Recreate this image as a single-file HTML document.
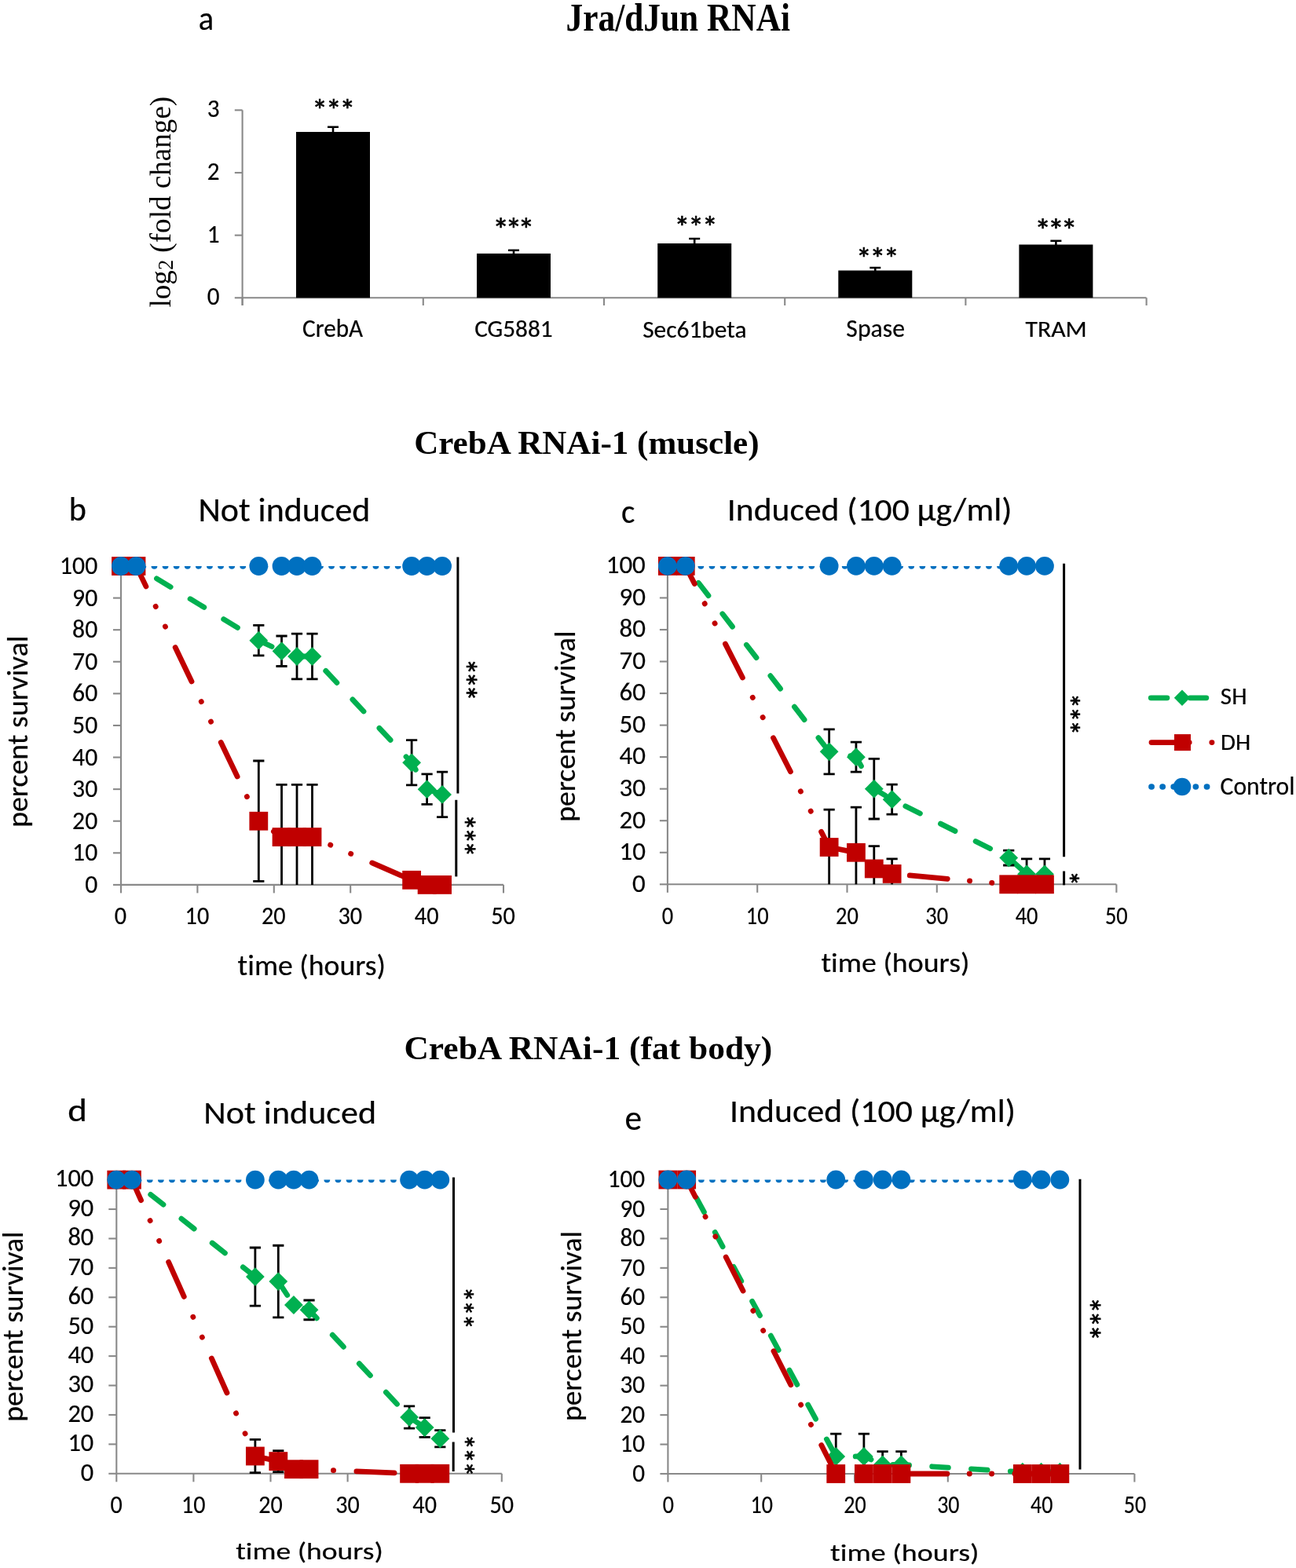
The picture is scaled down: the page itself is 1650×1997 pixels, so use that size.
<!DOCTYPE html>
<html><head><meta charset="utf-8"><title>Figure</title>
<style>
html,body{margin:0;padding:0;background:#fff;}
svg{display:block;}
text{font-variant-ligatures:none;font-feature-settings:"liga" 0,"clig" 0;font-kerning:normal;}
</style></head>
<body>
<svg width="1650" height="1997" viewBox="0 0 1650 1997">
<rect width="1650" height="1997" fill="#fff"/>
<text class="t" id="a" x="252.769" y="37.902" font-family="Carlito, 'Liberation Sans', sans-serif" font-size="43.679" textLength="19.385" lengthAdjust="spacingAndGlyphs" stroke="#000" stroke-width="0.2">a</text>
<text class="t" id="title" x="720.574" y="38.783" font-family="'Liberation Serif', 'Times New Roman', serif" font-size="50.265" font-weight="bold" textLength="285.423" lengthAdjust="spacingAndGlyphs">Jra/dJun RNAi</text>
<text class="t" id="t1" x="527.168" y="578.064" font-family="'Liberation Serif', 'Times New Roman', serif" font-size="41.561" font-weight="bold" textLength="439.424" lengthAdjust="spacingAndGlyphs">CrebA RNAi-1 (muscle)</text>
<text class="t" id="t2" x="514.442" y="1349.275" font-family="'Liberation Serif', 'Times New Roman', serif" font-size="41.292" font-weight="bold" textLength="468.905" lengthAdjust="spacingAndGlyphs">CrebA RNAi-1 (fat body)</text>
<g stroke="#898989" stroke-width="2.1" fill="none">
<path d="M308.6,140.30V389"/>
<path d="M308.6,379.30H1459.5"/>
<path d="M298.8,379.30H308.6"/>
<path d="M298.8,299.63H308.6"/>
<path d="M298.8,219.97H308.6"/>
<path d="M298.8,140.30H308.6"/>
<path d="M308.60,379.30V389"/>
<path d="M538.80,379.30V389"/>
<path d="M769.00,379.30V389"/>
<path d="M999.20,379.30V389"/>
<path d="M1229.40,379.30V389"/>
<path d="M1459.60,379.30V389"/>
</g>
<text class="t" id="a_y0" x="279.589" y="388.202" font-family="Carlito, 'Liberation Sans', sans-serif" font-size="32.526" text-anchor="end" textLength="15.794" lengthAdjust="spacingAndGlyphs" stroke="#000" stroke-width="0.2">0</text>
<text class="t" id="a_y1" x="279.589" y="308.535" font-family="Carlito, 'Liberation Sans', sans-serif" font-size="32.526" text-anchor="end" textLength="15.794" lengthAdjust="spacingAndGlyphs" stroke="#000" stroke-width="0.2">1</text>
<text class="t" id="a_y2" x="279.589" y="228.869" font-family="Carlito, 'Liberation Sans', sans-serif" font-size="32.526" text-anchor="end" textLength="15.794" lengthAdjust="spacingAndGlyphs" stroke="#000" stroke-width="0.2">2</text>
<text class="t" id="a_y3" x="279.589" y="149.202" font-family="Carlito, 'Liberation Sans', sans-serif" font-size="32.526" text-anchor="end" textLength="15.794" lengthAdjust="spacingAndGlyphs" stroke="#000" stroke-width="0.2">3</text>
<text class="t" id="a_ylab" x="0" y="0" transform="translate(217.301,391.506) rotate(-90)" font-family="'Liberation Serif', 'Times New Roman', serif" font-size="37.113">log<tspan font-size="26.350" dy="2.487">2</tspan><tspan dy="-2.487"> (fold change)</tspan></text>
<rect x="377.00" y="168.00" width="94" height="211.30" fill="#000"/>
<path d="M424.00,170.00V161.70M417.00,161.70h14" stroke="#000" stroke-width="2.6" fill="none"/>
<rect x="607.00" y="322.90" width="94" height="56.40" fill="#000"/>
<path d="M654.00,324.90V318.80M647.00,318.80h14" stroke="#000" stroke-width="2.6" fill="none"/>
<rect x="837.20" y="310.00" width="94" height="69.30" fill="#000"/>
<path d="M884.20,312.00V304.00M877.20,304.00h14" stroke="#000" stroke-width="2.6" fill="none"/>
<rect x="1067.30" y="344.50" width="94" height="34.80" fill="#000"/>
<path d="M1114.30,346.50V341.00M1107.30,341.00h14" stroke="#000" stroke-width="2.6" fill="none"/>
<rect x="1297.40" y="311.50" width="94" height="67.80" fill="#000"/>
<path d="M1344.40,313.50V306.70M1337.40,306.70h14" stroke="#000" stroke-width="2.6" fill="none"/>
<text class="t" id="a_c1" x="385.117" y="429.107" font-family="Carlito, 'Liberation Sans', sans-serif" font-size="32.521" textLength="77.014" lengthAdjust="spacingAndGlyphs" stroke="#000" stroke-width="0.2">CrebA</text>
<text class="t" id="a_s1" x="397.222" y="154.063" font-family="Carlito, 'Liberation Sans', sans-serif" font-size="39.649" textLength="55.106" lengthAdjust="spacing" stroke="#000" stroke-width="0.7">***</text>
<text class="t" id="a_c2" x="604.142" y="429.354" font-family="Carlito, 'Liberation Sans', sans-serif" font-size="30.166" textLength="99.539" lengthAdjust="spacingAndGlyphs" stroke="#000" stroke-width="0.2">CG5881</text>
<text class="t" id="a_s2" x="627.357" y="307.072" font-family="Carlito, 'Liberation Sans', sans-serif" font-size="41.894" textLength="52.991" lengthAdjust="spacing" stroke="#000" stroke-width="0.7">***</text>
<text class="t" id="a_c3" x="818.162" y="429.519" font-family="Carlito, 'Liberation Sans', sans-serif" font-size="30.494" textLength="132.348" lengthAdjust="spacingAndGlyphs" stroke="#000" stroke-width="0.2">Sec61beta</text>
<text class="t" id="a_s3" x="858.622" y="303.114" font-family="Carlito, 'Liberation Sans', sans-serif" font-size="39.649" textLength="55.006" lengthAdjust="spacing" stroke="#000" stroke-width="0.7">***</text>
<text class="t" id="a_c4" x="1077.370" y="428.974" font-family="Carlito, 'Liberation Sans', sans-serif" font-size="32.193" textLength="74.562" lengthAdjust="spacingAndGlyphs" stroke="#000" stroke-width="0.2">Spase</text>
<text class="t" id="a_s4" x="1090.022" y="343.156" font-family="Carlito, 'Liberation Sans', sans-serif" font-size="39.649" textLength="54.606" lengthAdjust="spacing" stroke="#000" stroke-width="0.7">***</text>
<text class="t" id="a_c5" x="1305.429" y="428.523" font-family="Carlito, 'Liberation Sans', sans-serif" font-size="29.436" textLength="78.304" lengthAdjust="spacingAndGlyphs" stroke="#000" stroke-width="0.2">TRAM</text>
<text class="t" id="a_s5" x="1317.357" y="307.576" font-family="Carlito, 'Liberation Sans', sans-serif" font-size="41.894" textLength="54.291" lengthAdjust="spacing" stroke="#000" stroke-width="0.7">***</text>
<g stroke="#898989" stroke-width="2.1" fill="none">
<path d="M154.00,721.00V1126.90"/>
<path d="M154.00,1126.90H641.00"/>
<path d="M144.00,1126.90H154.00"/>
<path d="M144.00,1086.31H154.00"/>
<path d="M144.00,1045.72H154.00"/>
<path d="M144.00,1005.13H154.00"/>
<path d="M144.00,964.54H154.00"/>
<path d="M144.00,923.95H154.00"/>
<path d="M144.00,883.36H154.00"/>
<path d="M144.00,842.77H154.00"/>
<path d="M144.00,802.18H154.00"/>
<path d="M144.00,761.59H154.00"/>
<path d="M144.00,721.00H154.00"/>
<path d="M154.00,1126.90V1137.40"/>
<path d="M251.40,1126.90V1137.40"/>
<path d="M348.80,1126.90V1137.40"/>
<path d="M446.20,1126.90V1137.40"/>
<path d="M543.60,1126.90V1137.40"/>
<path d="M641.00,1126.90V1137.40"/>
</g>
<text class="t" id="b_y0" x="124.237" y="1136.884" font-family="Carlito, 'Liberation Sans', sans-serif" font-size="32.444" text-anchor="end" textLength="16.073" lengthAdjust="spacingAndGlyphs" stroke="#000" stroke-width="0.2">0</text>
<text class="t" id="b_y10" x="124.237" y="1096.294" font-family="Carlito, 'Liberation Sans', sans-serif" font-size="32.444" text-anchor="end" textLength="32.146" lengthAdjust="spacingAndGlyphs" stroke="#000" stroke-width="0.2">10</text>
<text class="t" id="b_y20" x="124.237" y="1055.704" font-family="Carlito, 'Liberation Sans', sans-serif" font-size="32.444" text-anchor="end" textLength="32.146" lengthAdjust="spacingAndGlyphs" stroke="#000" stroke-width="0.2">20</text>
<text class="t" id="b_y30" x="124.237" y="1015.114" font-family="Carlito, 'Liberation Sans', sans-serif" font-size="32.444" text-anchor="end" textLength="32.146" lengthAdjust="spacingAndGlyphs" stroke="#000" stroke-width="0.2">30</text>
<text class="t" id="b_y40" x="124.237" y="974.524" font-family="Carlito, 'Liberation Sans', sans-serif" font-size="32.444" text-anchor="end" textLength="32.146" lengthAdjust="spacingAndGlyphs" stroke="#000" stroke-width="0.2">40</text>
<text class="t" id="b_y50" x="124.237" y="933.934" font-family="Carlito, 'Liberation Sans', sans-serif" font-size="32.444" text-anchor="end" textLength="32.146" lengthAdjust="spacingAndGlyphs" stroke="#000" stroke-width="0.2">50</text>
<text class="t" id="b_y60" x="124.237" y="893.344" font-family="Carlito, 'Liberation Sans', sans-serif" font-size="32.444" text-anchor="end" textLength="32.146" lengthAdjust="spacingAndGlyphs" stroke="#000" stroke-width="0.2">60</text>
<text class="t" id="b_y70" x="124.237" y="852.754" font-family="Carlito, 'Liberation Sans', sans-serif" font-size="32.444" text-anchor="end" textLength="32.146" lengthAdjust="spacingAndGlyphs" stroke="#000" stroke-width="0.2">70</text>
<text class="t" id="b_y80" x="124.237" y="812.164" font-family="Carlito, 'Liberation Sans', sans-serif" font-size="32.444" text-anchor="end" textLength="32.146" lengthAdjust="spacingAndGlyphs" stroke="#000" stroke-width="0.2">80</text>
<text class="t" id="b_y90" x="124.237" y="771.574" font-family="Carlito, 'Liberation Sans', sans-serif" font-size="32.444" text-anchor="end" textLength="32.146" lengthAdjust="spacingAndGlyphs" stroke="#000" stroke-width="0.2">90</text>
<text class="t" id="b_y100" x="124.237" y="730.984" font-family="Carlito, 'Liberation Sans', sans-serif" font-size="32.444" text-anchor="end" textLength="48.219" lengthAdjust="spacingAndGlyphs" stroke="#000" stroke-width="0.2">100</text>
<text class="t" id="b_x0" x="153.534" y="1177.088" font-family="Carlito, 'Liberation Sans', sans-serif" font-size="31.923" text-anchor="middle" textLength="15.320" lengthAdjust="spacingAndGlyphs" stroke="#000" stroke-width="0.2">0</text>
<text class="t" id="b_x10" x="250.934" y="1177.088" font-family="Carlito, 'Liberation Sans', sans-serif" font-size="31.923" text-anchor="middle" textLength="30.641" lengthAdjust="spacingAndGlyphs" stroke="#000" stroke-width="0.2">10</text>
<text class="t" id="b_x20" x="348.334" y="1177.088" font-family="Carlito, 'Liberation Sans', sans-serif" font-size="31.923" text-anchor="middle" textLength="30.641" lengthAdjust="spacingAndGlyphs" stroke="#000" stroke-width="0.2">20</text>
<text class="t" id="b_x30" x="445.734" y="1177.088" font-family="Carlito, 'Liberation Sans', sans-serif" font-size="31.923" text-anchor="middle" textLength="30.641" lengthAdjust="spacingAndGlyphs" stroke="#000" stroke-width="0.2">30</text>
<text class="t" id="b_x40" x="543.134" y="1177.088" font-family="Carlito, 'Liberation Sans', sans-serif" font-size="31.923" text-anchor="middle" textLength="30.641" lengthAdjust="spacingAndGlyphs" stroke="#000" stroke-width="0.2">40</text>
<text class="t" id="b_x50" x="640.534" y="1177.088" font-family="Carlito, 'Liberation Sans', sans-serif" font-size="31.923" text-anchor="middle" textLength="30.641" lengthAdjust="spacingAndGlyphs" stroke="#000" stroke-width="0.2">50</text>
<text class="t" id="b_xl" x="302.617" y="1242.296" font-family="Carlito, 'Liberation Sans', sans-serif" font-size="36.321" textLength="188.398" lengthAdjust="spacingAndGlyphs" stroke="#000" stroke-width="0.2">time (hours)</text>
<text class="t" id="b_yl" x="0" y="0" transform="translate(35.228,1053.838) rotate(-90)" font-family="Carlito, 'Liberation Sans', sans-serif" font-size="37.280" textLength="244.295" lengthAdjust="spacingAndGlyphs" stroke="#000" stroke-width="0.2">percent survival</text>
<text class="t" id="b" x="87.817" y="662.759" font-family="Carlito, 'Liberation Sans', sans-serif" font-size="43.975" textLength="22.108" lengthAdjust="spacingAndGlyphs" stroke="#000" stroke-width="0.2">b</text>
<text class="t" id="b_t" x="252.457" y="664.067" font-family="Carlito, 'Liberation Sans', sans-serif" font-size="43.719" textLength="218.883" lengthAdjust="spacingAndGlyphs" stroke="#000" stroke-width="0.2">Not induced</text>
<clipPath id="clipb"><rect x="114.00" y="721.00" width="567.00" height="445.90"/></clipPath>
<path clip-path="url(#clipb)" d="M154.00,721.00 L173.48,721.00 L329.32,815.70 L358.54,829.25 L378.02,835.99 L397.50,835.99 L524.12,971.32 L543.60,1005.13 L563.08,1011.91" fill="none" stroke="#00B050" stroke-width="6.8" stroke-dasharray="20.7 29.2" stroke-linecap="round" stroke-linejoin="round"/>
<path d="M329.32,796.46V834.94 M322.22,796.46h14.20 M322.22,834.94h14.20 M358.54,810.01V848.49 M351.44,810.01h14.20 M351.44,848.49h14.20 M378.02,807.17V864.81 M370.92,807.17h14.20 M370.92,864.81h14.20 M397.50,807.17V864.81 M390.40,807.17h14.20 M390.40,864.81h14.20 M524.12,942.70V999.93 M517.02,942.70h14.20 M517.02,999.93h14.20 M543.60,985.89V1024.37 M536.50,985.89h14.20 M536.50,1024.37h14.20 M563.08,983.17V1040.65 M555.98,983.17h14.20 M555.98,1040.65h14.20" stroke="#000" stroke-width="2.8" fill="none"/>
<path d="M154.00,709.10L165.90,721.00L154.00,732.90L142.10,721.00Z" fill="#00B050"/>
<path d="M173.48,709.10L185.38,721.00L173.48,732.90L161.58,721.00Z" fill="#00B050"/>
<path d="M329.32,803.80L341.22,815.70L329.32,827.60L317.42,815.70Z" fill="#00B050"/>
<path d="M358.54,817.35L370.44,829.25L358.54,841.15L346.64,829.25Z" fill="#00B050"/>
<path d="M378.02,824.09L389.92,835.99L378.02,847.89L366.12,835.99Z" fill="#00B050"/>
<path d="M397.50,824.09L409.40,835.99L397.50,847.89L385.60,835.99Z" fill="#00B050"/>
<path d="M524.12,959.42L536.02,971.32L524.12,983.22L512.22,971.32Z" fill="#00B050"/>
<path d="M543.60,993.23L555.50,1005.13L543.60,1017.03L531.70,1005.13Z" fill="#00B050"/>
<path d="M563.08,1000.01L574.98,1011.91L563.08,1023.81L551.18,1011.91Z" fill="#00B050"/>
<path clip-path="url(#clipb)" d="M154.00,721.00 L173.48,721.00 L329.32,1045.72 L358.54,1066.02 L378.02,1066.02 L397.50,1066.02 L524.12,1120.81 L543.60,1126.90 L563.08,1126.90" fill="none" stroke="#C00000" stroke-width="6.8" stroke-dasharray="48.2 28.3 0.2 28.1 0.2 29.3" stroke-linecap="round" stroke-linejoin="round"/>
<path d="M329.32,969.00V1122.44 M322.22,969.00h14.20 M322.22,1122.44h14.20 M358.54,999.45V1126.90 M351.44,999.45h14.20 M378.02,999.45V1126.90 M370.92,999.45h14.20 M397.50,999.45V1126.90 M390.40,999.45h14.20" stroke="#000" stroke-width="2.8" fill="none"/>
<rect x="142.10" y="709.10" width="23.8" height="23.8" fill="#C00000"/>
<rect x="161.58" y="709.10" width="23.8" height="23.8" fill="#C00000"/>
<rect x="317.42" y="1033.82" width="23.8" height="23.8" fill="#C00000"/>
<rect x="346.64" y="1054.12" width="23.8" height="23.8" fill="#C00000"/>
<rect x="366.12" y="1054.12" width="23.8" height="23.8" fill="#C00000"/>
<rect x="385.60" y="1054.12" width="23.8" height="23.8" fill="#C00000"/>
<rect x="512.22" y="1108.91" width="23.8" height="23.8" fill="#C00000"/>
<rect x="531.70" y="1115.00" width="23.8" height="23.8" fill="#C00000"/>
<rect x="551.18" y="1115.00" width="23.8" height="23.8" fill="#C00000"/>
<path clip-path="url(#clipb)" d="M154.00,721.00 L173.48,721.00 L329.32,721.00 L358.54,721.00 L378.02,721.00 L397.50,721.00 L524.12,721.00 L543.60,721.00 L563.08,721.00" fill="none" stroke="#0070C0" stroke-width="7.5" stroke-dasharray="0.3 13.8" stroke-linecap="round"/>
<circle cx="154.00" cy="721.00" r="11.9" fill="#0070C0"/>
<circle cx="173.48" cy="721.00" r="11.9" fill="#0070C0"/>
<circle cx="329.32" cy="721.00" r="11.9" fill="#0070C0"/>
<circle cx="358.54" cy="721.00" r="11.9" fill="#0070C0"/>
<circle cx="378.02" cy="721.00" r="11.9" fill="#0070C0"/>
<circle cx="397.50" cy="721.00" r="11.9" fill="#0070C0"/>
<circle cx="524.12" cy="721.00" r="11.9" fill="#0070C0"/>
<circle cx="543.60" cy="721.00" r="11.9" fill="#0070C0"/>
<circle cx="563.08" cy="721.00" r="11.9" fill="#0070C0"/>
<path d="M582.90,709.60V1010.40" stroke="#000" stroke-width="3.0"/>
<path d="M580.80,1018.80V1116.40" stroke="#000" stroke-width="3.0"/>
<text class="t" id="b_s1" x="0" y="0" transform="translate(576.166,838.425) rotate(90)" font-family="Carlito, 'Liberation Sans', sans-serif" font-size="42.072" textLength="54.575" lengthAdjust="spacing" stroke="#000" stroke-width="0.7">***</text>
<text class="t" id="b_s2" x="0" y="0" transform="translate(574.416,1036.825) rotate(90)" font-family="Carlito, 'Liberation Sans', sans-serif" font-size="42.072" textLength="54.875" lengthAdjust="spacing" stroke="#000" stroke-width="0.7">***</text>
<g stroke="#898989" stroke-width="2.1" fill="none">
<path d="M849.90,720.90V1126.30"/>
<path d="M849.90,1126.30H1421.40"/>
<path d="M839.90,1126.30H849.90"/>
<path d="M839.90,1085.76H849.90"/>
<path d="M839.90,1045.22H849.90"/>
<path d="M839.90,1004.68H849.90"/>
<path d="M839.90,964.14H849.90"/>
<path d="M839.90,923.60H849.90"/>
<path d="M839.90,883.06H849.90"/>
<path d="M839.90,842.52H849.90"/>
<path d="M839.90,801.98H849.90"/>
<path d="M839.90,761.44H849.90"/>
<path d="M839.90,720.90H849.90"/>
<path d="M849.90,1126.30V1136.80"/>
<path d="M964.20,1126.30V1136.80"/>
<path d="M1078.50,1126.30V1136.80"/>
<path d="M1192.80,1126.30V1136.80"/>
<path d="M1307.10,1126.30V1136.80"/>
<path d="M1421.40,1126.30V1136.80"/>
</g>
<text class="t" id="c_y0" x="821.859" y="1135.620" font-family="Carlito, 'Liberation Sans', sans-serif" font-size="32.338" text-anchor="end" textLength="16.724" lengthAdjust="spacingAndGlyphs" stroke="#000" stroke-width="0.2">0</text>
<text class="t" id="c_y10" x="821.859" y="1095.080" font-family="Carlito, 'Liberation Sans', sans-serif" font-size="32.338" text-anchor="end" textLength="33.449" lengthAdjust="spacingAndGlyphs" stroke="#000" stroke-width="0.2">10</text>
<text class="t" id="c_y20" x="821.859" y="1054.540" font-family="Carlito, 'Liberation Sans', sans-serif" font-size="32.338" text-anchor="end" textLength="33.449" lengthAdjust="spacingAndGlyphs" stroke="#000" stroke-width="0.2">20</text>
<text class="t" id="c_y30" x="821.859" y="1014.000" font-family="Carlito, 'Liberation Sans', sans-serif" font-size="32.338" text-anchor="end" textLength="33.449" lengthAdjust="spacingAndGlyphs" stroke="#000" stroke-width="0.2">30</text>
<text class="t" id="c_y40" x="821.859" y="973.460" font-family="Carlito, 'Liberation Sans', sans-serif" font-size="32.338" text-anchor="end" textLength="33.449" lengthAdjust="spacingAndGlyphs" stroke="#000" stroke-width="0.2">40</text>
<text class="t" id="c_y50" x="821.859" y="932.920" font-family="Carlito, 'Liberation Sans', sans-serif" font-size="32.338" text-anchor="end" textLength="33.449" lengthAdjust="spacingAndGlyphs" stroke="#000" stroke-width="0.2">50</text>
<text class="t" id="c_y60" x="821.859" y="892.380" font-family="Carlito, 'Liberation Sans', sans-serif" font-size="32.338" text-anchor="end" textLength="33.449" lengthAdjust="spacingAndGlyphs" stroke="#000" stroke-width="0.2">60</text>
<text class="t" id="c_y70" x="821.859" y="851.840" font-family="Carlito, 'Liberation Sans', sans-serif" font-size="32.338" text-anchor="end" textLength="33.449" lengthAdjust="spacingAndGlyphs" stroke="#000" stroke-width="0.2">70</text>
<text class="t" id="c_y80" x="821.859" y="811.300" font-family="Carlito, 'Liberation Sans', sans-serif" font-size="32.338" text-anchor="end" textLength="33.449" lengthAdjust="spacingAndGlyphs" stroke="#000" stroke-width="0.2">80</text>
<text class="t" id="c_y90" x="821.859" y="770.760" font-family="Carlito, 'Liberation Sans', sans-serif" font-size="32.338" text-anchor="end" textLength="33.449" lengthAdjust="spacingAndGlyphs" stroke="#000" stroke-width="0.2">90</text>
<text class="t" id="c_y100" x="821.859" y="730.220" font-family="Carlito, 'Liberation Sans', sans-serif" font-size="32.338" text-anchor="end" textLength="50.173" lengthAdjust="spacingAndGlyphs" stroke="#000" stroke-width="0.2">100</text>
<text class="t" id="c_x0" x="849.856" y="1176.955" font-family="Carlito, 'Liberation Sans', sans-serif" font-size="32.051" text-anchor="middle" textLength="14.408" lengthAdjust="spacingAndGlyphs" stroke="#000" stroke-width="0.2">0</text>
<text class="t" id="c_x10" x="964.156" y="1176.955" font-family="Carlito, 'Liberation Sans', sans-serif" font-size="32.051" text-anchor="middle" textLength="28.817" lengthAdjust="spacingAndGlyphs" stroke="#000" stroke-width="0.2">10</text>
<text class="t" id="c_x20" x="1078.456" y="1176.955" font-family="Carlito, 'Liberation Sans', sans-serif" font-size="32.051" text-anchor="middle" textLength="28.817" lengthAdjust="spacingAndGlyphs" stroke="#000" stroke-width="0.2">20</text>
<text class="t" id="c_x30" x="1192.756" y="1176.955" font-family="Carlito, 'Liberation Sans', sans-serif" font-size="32.051" text-anchor="middle" textLength="28.817" lengthAdjust="spacingAndGlyphs" stroke="#000" stroke-width="0.2">30</text>
<text class="t" id="c_x40" x="1307.056" y="1176.955" font-family="Carlito, 'Liberation Sans', sans-serif" font-size="32.051" text-anchor="middle" textLength="28.817" lengthAdjust="spacingAndGlyphs" stroke="#000" stroke-width="0.2">40</text>
<text class="t" id="c_x50" x="1421.356" y="1176.955" font-family="Carlito, 'Liberation Sans', sans-serif" font-size="32.051" text-anchor="middle" textLength="28.817" lengthAdjust="spacingAndGlyphs" stroke="#000" stroke-width="0.2">50</text>
<text class="t" id="c_xl" x="1045.437" y="1238.011" font-family="Carlito, 'Liberation Sans', sans-serif" font-size="33.795" textLength="189.014" lengthAdjust="spacingAndGlyphs" stroke="#000" stroke-width="0.2">time (hours)</text>
<text class="t" id="c_yl" x="0" y="0" transform="translate(732.100,1046.841) rotate(-90)" font-family="Carlito, 'Liberation Sans', sans-serif" font-size="37.000" textLength="243.501" lengthAdjust="spacingAndGlyphs" stroke="#000" stroke-width="0.2">percent survival</text>
<text class="t" id="c" x="791.120" y="666.328" font-family="Carlito, 'Liberation Sans', sans-serif" font-size="43.662" textLength="17.311" lengthAdjust="spacingAndGlyphs" stroke="#000" stroke-width="0.2">c</text>
<text class="t" id="c_t" x="925.854" y="663.012" font-family="Carlito, 'Liberation Sans', sans-serif" font-size="41.200" textLength="362.600" lengthAdjust="spacingAndGlyphs" stroke="#000" stroke-width="0.2">Induced (100 µg/ml)</text>
<clipPath id="clipc"><rect x="809.90" y="720.90" width="651.50" height="445.40"/></clipPath>
<path clip-path="url(#clipc)" d="M849.90,720.90 L872.76,720.90 L1055.64,957.37 L1089.93,964.14 L1112.79,1004.68 L1135.65,1018.18 L1284.24,1092.53 L1307.10,1113.33 L1329.96,1113.33" fill="none" stroke="#00B050" stroke-width="6.8" stroke-dasharray="20.7 29.2" stroke-linecap="round" stroke-linejoin="round"/>
<path d="M1055.64,928.87V985.87 M1048.54,928.87h14.20 M1048.54,985.87h14.20 M1089.93,945.13V983.15 M1082.83,945.13h14.20 M1082.83,983.15h14.20 M1112.79,966.37V1042.99 M1105.69,966.37h14.20 M1105.69,1042.99h14.20 M1135.65,999.17V1037.19 M1128.55,999.17h14.20 M1128.55,1037.19h14.20 M1284.24,1083.04V1102.02 M1277.14,1083.04h14.20 M1277.14,1102.02h14.20 M1307.10,1093.91V1126.30 M1300.00,1093.91h14.20 M1329.96,1093.91V1126.30 M1322.86,1093.91h14.20" stroke="#000" stroke-width="2.8" fill="none"/>
<path d="M849.90,709.00L861.80,720.90L849.90,732.80L838.00,720.90Z" fill="#00B050"/>
<path d="M872.76,709.00L884.66,720.90L872.76,732.80L860.86,720.90Z" fill="#00B050"/>
<path d="M1055.64,945.47L1067.54,957.37L1055.64,969.27L1043.74,957.37Z" fill="#00B050"/>
<path d="M1089.93,952.24L1101.83,964.14L1089.93,976.04L1078.03,964.14Z" fill="#00B050"/>
<path d="M1112.79,992.78L1124.69,1004.68L1112.79,1016.58L1100.89,1004.68Z" fill="#00B050"/>
<path d="M1135.65,1006.28L1147.55,1018.18L1135.65,1030.08L1123.75,1018.18Z" fill="#00B050"/>
<path d="M1284.24,1080.63L1296.14,1092.53L1284.24,1104.43L1272.34,1092.53Z" fill="#00B050"/>
<path d="M1307.10,1101.43L1319.00,1113.33L1307.10,1125.23L1295.20,1113.33Z" fill="#00B050"/>
<path d="M1329.96,1101.43L1341.86,1113.33L1329.96,1125.23L1318.06,1113.33Z" fill="#00B050"/>
<path clip-path="url(#clipc)" d="M849.90,720.90 L872.76,720.90 L1055.64,1078.99 L1089.93,1085.76 L1112.79,1106.44 L1135.65,1112.92 L1284.24,1126.30 L1307.10,1126.30 L1329.96,1126.30" fill="none" stroke="#C00000" stroke-width="6.8" stroke-dasharray="48.2 28.3 0.2 28.1 0.2 29.3" stroke-linecap="round" stroke-linejoin="round"/>
<path d="M1055.64,1031.15V1126.30 M1048.54,1031.15h14.20 M1089.93,1028.19V1126.30 M1082.83,1028.19h14.20 M1112.79,1077.65V1126.30 M1105.69,1077.65h14.20 M1135.65,1093.87V1126.30 M1128.55,1093.87h14.20" stroke="#000" stroke-width="2.8" fill="none"/>
<rect x="838.00" y="709.00" width="23.8" height="23.8" fill="#C00000"/>
<rect x="860.86" y="709.00" width="23.8" height="23.8" fill="#C00000"/>
<rect x="1043.74" y="1067.09" width="23.8" height="23.8" fill="#C00000"/>
<rect x="1078.03" y="1073.86" width="23.8" height="23.8" fill="#C00000"/>
<rect x="1100.89" y="1094.54" width="23.8" height="23.8" fill="#C00000"/>
<rect x="1123.75" y="1101.02" width="23.8" height="23.8" fill="#C00000"/>
<rect x="1272.34" y="1114.40" width="23.8" height="23.8" fill="#C00000"/>
<rect x="1295.20" y="1114.40" width="23.8" height="23.8" fill="#C00000"/>
<rect x="1318.06" y="1114.40" width="23.8" height="23.8" fill="#C00000"/>
<path clip-path="url(#clipc)" d="M849.90,720.90 L872.76,720.90 L1055.64,720.90 L1089.93,720.90 L1112.79,720.90 L1135.65,720.90 L1284.24,720.90 L1307.10,720.90 L1329.96,720.90" fill="none" stroke="#0070C0" stroke-width="7.5" stroke-dasharray="0.3 13.8" stroke-linecap="round"/>
<circle cx="849.90" cy="720.90" r="11.9" fill="#0070C0"/>
<circle cx="872.76" cy="720.90" r="11.9" fill="#0070C0"/>
<circle cx="1055.64" cy="720.90" r="11.9" fill="#0070C0"/>
<circle cx="1089.93" cy="720.90" r="11.9" fill="#0070C0"/>
<circle cx="1112.79" cy="720.90" r="11.9" fill="#0070C0"/>
<circle cx="1135.65" cy="720.90" r="11.9" fill="#0070C0"/>
<circle cx="1284.24" cy="720.90" r="11.9" fill="#0070C0"/>
<circle cx="1307.10" cy="720.90" r="11.9" fill="#0070C0"/>
<circle cx="1329.96" cy="720.90" r="11.9" fill="#0070C0"/>
<path d="M1354.60,717.80V1091.30" stroke="#000" stroke-width="3.0"/>
<path d="M1354.60,1109.50V1127.30" stroke="#000" stroke-width="3.0"/>
<text class="t" id="c_s1" x="0" y="0" transform="translate(1346.987,882.787) rotate(90)" font-family="Carlito, 'Liberation Sans', sans-serif" font-size="38.791" textLength="53.653" lengthAdjust="spacing" stroke="#000" stroke-width="0.7">***</text>
<text class="t" id="c_s2" x="0" y="0" transform="translate(1345.920,1108.989) rotate(90)" font-family="Carlito, 'Liberation Sans', sans-serif" font-size="38.613" textLength="-16.831" lengthAdjust="spacing" stroke="#000" stroke-width="0.7">*</text>
<g stroke="#898989" stroke-width="2.1" fill="none">
<path d="M148.30,1502.60V1876.80"/>
<path d="M148.30,1876.80H638.80"/>
<path d="M138.30,1876.80H148.30"/>
<path d="M138.30,1839.38H148.30"/>
<path d="M138.30,1801.96H148.30"/>
<path d="M138.30,1764.54H148.30"/>
<path d="M138.30,1727.12H148.30"/>
<path d="M138.30,1689.70H148.30"/>
<path d="M138.30,1652.28H148.30"/>
<path d="M138.30,1614.86H148.30"/>
<path d="M138.30,1577.44H148.30"/>
<path d="M138.30,1540.02H148.30"/>
<path d="M138.30,1502.60H148.30"/>
<path d="M148.30,1876.80V1887.30"/>
<path d="M246.40,1876.80V1887.30"/>
<path d="M344.50,1876.80V1887.30"/>
<path d="M442.60,1876.80V1887.30"/>
<path d="M540.70,1876.80V1887.30"/>
<path d="M638.80,1876.80V1887.30"/>
</g>
<text class="t" id="d_y0" x="119.262" y="1885.644" font-family="Carlito, 'Liberation Sans', sans-serif" font-size="32.405" text-anchor="end" textLength="16.416" lengthAdjust="spacingAndGlyphs" stroke="#000" stroke-width="0.2">0</text>
<text class="t" id="d_y10" x="119.262" y="1848.224" font-family="Carlito, 'Liberation Sans', sans-serif" font-size="32.405" text-anchor="end" textLength="32.832" lengthAdjust="spacingAndGlyphs" stroke="#000" stroke-width="0.2">10</text>
<text class="t" id="d_y20" x="119.262" y="1810.804" font-family="Carlito, 'Liberation Sans', sans-serif" font-size="32.405" text-anchor="end" textLength="32.832" lengthAdjust="spacingAndGlyphs" stroke="#000" stroke-width="0.2">20</text>
<text class="t" id="d_y30" x="119.262" y="1773.384" font-family="Carlito, 'Liberation Sans', sans-serif" font-size="32.405" text-anchor="end" textLength="32.832" lengthAdjust="spacingAndGlyphs" stroke="#000" stroke-width="0.2">30</text>
<text class="t" id="d_y40" x="119.262" y="1735.964" font-family="Carlito, 'Liberation Sans', sans-serif" font-size="32.405" text-anchor="end" textLength="32.832" lengthAdjust="spacingAndGlyphs" stroke="#000" stroke-width="0.2">40</text>
<text class="t" id="d_y50" x="119.262" y="1698.544" font-family="Carlito, 'Liberation Sans', sans-serif" font-size="32.405" text-anchor="end" textLength="32.832" lengthAdjust="spacingAndGlyphs" stroke="#000" stroke-width="0.2">50</text>
<text class="t" id="d_y60" x="119.262" y="1661.124" font-family="Carlito, 'Liberation Sans', sans-serif" font-size="32.405" text-anchor="end" textLength="32.832" lengthAdjust="spacingAndGlyphs" stroke="#000" stroke-width="0.2">60</text>
<text class="t" id="d_y70" x="119.262" y="1623.704" font-family="Carlito, 'Liberation Sans', sans-serif" font-size="32.405" text-anchor="end" textLength="32.832" lengthAdjust="spacingAndGlyphs" stroke="#000" stroke-width="0.2">70</text>
<text class="t" id="d_y80" x="119.262" y="1586.284" font-family="Carlito, 'Liberation Sans', sans-serif" font-size="32.405" text-anchor="end" textLength="32.832" lengthAdjust="spacingAndGlyphs" stroke="#000" stroke-width="0.2">80</text>
<text class="t" id="d_y90" x="119.262" y="1548.864" font-family="Carlito, 'Liberation Sans', sans-serif" font-size="32.405" text-anchor="end" textLength="32.832" lengthAdjust="spacingAndGlyphs" stroke="#000" stroke-width="0.2">90</text>
<text class="t" id="d_y100" x="119.262" y="1511.444" font-family="Carlito, 'Liberation Sans', sans-serif" font-size="32.405" text-anchor="end" textLength="49.248" lengthAdjust="spacingAndGlyphs" stroke="#000" stroke-width="0.2">100</text>
<text class="t" id="d_x0" x="148.241" y="1927.458" font-family="Carlito, 'Liberation Sans', sans-serif" font-size="32.931" text-anchor="middle" textLength="15.266" lengthAdjust="spacingAndGlyphs" stroke="#000" stroke-width="0.2">0</text>
<text class="t" id="d_x10" x="246.341" y="1927.458" font-family="Carlito, 'Liberation Sans', sans-serif" font-size="32.931" text-anchor="middle" textLength="30.533" lengthAdjust="spacingAndGlyphs" stroke="#000" stroke-width="0.2">10</text>
<text class="t" id="d_x20" x="344.441" y="1927.458" font-family="Carlito, 'Liberation Sans', sans-serif" font-size="32.931" text-anchor="middle" textLength="30.533" lengthAdjust="spacingAndGlyphs" stroke="#000" stroke-width="0.2">20</text>
<text class="t" id="d_x30" x="442.541" y="1927.458" font-family="Carlito, 'Liberation Sans', sans-serif" font-size="32.931" text-anchor="middle" textLength="30.533" lengthAdjust="spacingAndGlyphs" stroke="#000" stroke-width="0.2">30</text>
<text class="t" id="d_x40" x="540.641" y="1927.458" font-family="Carlito, 'Liberation Sans', sans-serif" font-size="32.931" text-anchor="middle" textLength="30.533" lengthAdjust="spacingAndGlyphs" stroke="#000" stroke-width="0.2">40</text>
<text class="t" id="d_x50" x="638.741" y="1927.458" font-family="Carlito, 'Liberation Sans', sans-serif" font-size="32.931" text-anchor="middle" textLength="30.533" lengthAdjust="spacingAndGlyphs" stroke="#000" stroke-width="0.2">50</text>
<text class="t" id="d_xl" x="300.250" y="1986.212" font-family="Carlito, 'Liberation Sans', sans-serif" font-size="31.063" textLength="187.617" lengthAdjust="spacingAndGlyphs" stroke="#000" stroke-width="0.2">time (hours)</text>
<text class="t" id="d_yl" x="0" y="0" transform="translate(29.226,1810.841) rotate(-90)" font-family="Carlito, 'Liberation Sans', sans-serif" font-size="36.150" textLength="242.501" lengthAdjust="spacingAndGlyphs" stroke="#000" stroke-width="0.2">percent survival</text>
<text class="t" id="d" x="86.351" y="1428.019" font-family="Carlito, 'Liberation Sans', sans-serif" font-size="41.641" textLength="24.726" lengthAdjust="spacingAndGlyphs" stroke="#000" stroke-width="0.2">d</text>
<text class="t" id="d_t" x="259.360" y="1431.019" font-family="Carlito, 'Liberation Sans', sans-serif" font-size="41.641" textLength="219.681" lengthAdjust="spacingAndGlyphs" stroke="#000" stroke-width="0.2">Not induced</text>
<clipPath id="clipd"><rect x="108.30" y="1502.60" width="570.50" height="414.20"/></clipPath>
<path clip-path="url(#clipd)" d="M148.30,1502.60 L167.92,1502.60 L324.88,1626.09 L354.31,1632.07 L373.93,1662.01 L393.55,1668.37 L521.08,1804.95 L540.70,1818.05 L560.32,1832.27" fill="none" stroke="#00B050" stroke-width="6.8" stroke-dasharray="20.7 29.2" stroke-linecap="round" stroke-linejoin="round"/>
<path d="M324.88,1589.00V1663.17 M317.78,1589.00h14.20 M317.78,1663.17h14.20 M354.31,1586.27V1677.88 M347.21,1586.27h14.20 M347.21,1677.88h14.20 M393.55,1655.98V1680.76 M386.45,1655.98h14.20 M386.45,1680.76h14.20 M521.08,1790.85V1819.06 M513.98,1790.85h14.20 M513.98,1819.06h14.20 M540.70,1805.66V1830.44 M533.60,1805.66h14.20 M533.60,1830.44h14.20 M560.32,1821.57V1842.97 M553.22,1821.57h14.20 M553.22,1842.97h14.20" stroke="#000" stroke-width="2.8" fill="none"/>
<path d="M148.30,1490.70L160.20,1502.60L148.30,1514.50L136.40,1502.60Z" fill="#00B050"/>
<path d="M167.92,1490.70L179.82,1502.60L167.92,1514.50L156.02,1502.60Z" fill="#00B050"/>
<path d="M324.88,1614.19L336.78,1626.09L324.88,1637.99L312.98,1626.09Z" fill="#00B050"/>
<path d="M354.31,1620.17L366.21,1632.07L354.31,1643.97L342.41,1632.07Z" fill="#00B050"/>
<path d="M373.93,1650.11L385.83,1662.01L373.93,1673.91L362.03,1662.01Z" fill="#00B050"/>
<path d="M393.55,1656.47L405.45,1668.37L393.55,1680.27L381.65,1668.37Z" fill="#00B050"/>
<path d="M521.08,1793.05L532.98,1804.95L521.08,1816.85L509.18,1804.95Z" fill="#00B050"/>
<path d="M540.70,1806.15L552.60,1818.05L540.70,1829.95L528.80,1818.05Z" fill="#00B050"/>
<path d="M560.32,1820.37L572.22,1832.27L560.32,1844.17L548.42,1832.27Z" fill="#00B050"/>
<path clip-path="url(#clipd)" d="M148.30,1502.60 L167.92,1502.60 L324.88,1854.50 L354.31,1861.08 L373.93,1871.19 L393.55,1871.19 L521.08,1876.80 L540.70,1876.80 L560.32,1876.80" fill="none" stroke="#C00000" stroke-width="6.8" stroke-dasharray="48.2 28.3 0.2 28.1 0.2 29.3" stroke-linecap="round" stroke-linejoin="round"/>
<path d="M324.88,1833.28V1875.71 M317.78,1833.28h14.20 M317.78,1875.71h14.20 M354.31,1847.61V1874.55 M347.21,1847.61h14.20 M347.21,1874.55h14.20" stroke="#000" stroke-width="2.8" fill="none"/>
<rect x="136.40" y="1490.70" width="23.8" height="23.8" fill="#C00000"/>
<rect x="156.02" y="1490.70" width="23.8" height="23.8" fill="#C00000"/>
<rect x="312.98" y="1842.60" width="23.8" height="23.8" fill="#C00000"/>
<rect x="342.41" y="1849.18" width="23.8" height="23.8" fill="#C00000"/>
<rect x="362.03" y="1859.29" width="23.8" height="23.8" fill="#C00000"/>
<rect x="381.65" y="1859.29" width="23.8" height="23.8" fill="#C00000"/>
<rect x="509.18" y="1864.90" width="23.8" height="23.8" fill="#C00000"/>
<rect x="528.80" y="1864.90" width="23.8" height="23.8" fill="#C00000"/>
<rect x="548.42" y="1864.90" width="23.8" height="23.8" fill="#C00000"/>
<path clip-path="url(#clipd)" d="M148.30,1502.60 L167.92,1502.60 L324.88,1502.60 L354.31,1502.60 L373.93,1502.60 L393.55,1502.60 L521.08,1502.60 L540.70,1502.60 L560.32,1502.60" fill="none" stroke="#0070C0" stroke-width="7.5" stroke-dasharray="0.3 13.8" stroke-linecap="round"/>
<circle cx="148.30" cy="1502.60" r="11.9" fill="#0070C0"/>
<circle cx="167.92" cy="1502.60" r="11.9" fill="#0070C0"/>
<circle cx="324.88" cy="1502.60" r="11.9" fill="#0070C0"/>
<circle cx="354.31" cy="1502.60" r="11.9" fill="#0070C0"/>
<circle cx="373.93" cy="1502.60" r="11.9" fill="#0070C0"/>
<circle cx="393.55" cy="1502.60" r="11.9" fill="#0070C0"/>
<circle cx="521.08" cy="1502.60" r="11.9" fill="#0070C0"/>
<circle cx="540.70" cy="1502.60" r="11.9" fill="#0070C0"/>
<circle cx="560.32" cy="1502.60" r="11.9" fill="#0070C0"/>
<path d="M577.50,1499.50V1824.40" stroke="#000" stroke-width="3.0"/>
<path d="M577.20,1836.50V1874.00" stroke="#000" stroke-width="3.0"/>
<text class="t" id="d_s1" x="0" y="0" transform="translate(574.850,1638.491) rotate(90)" font-family="Carlito, 'Liberation Sans', sans-serif" font-size="39.402" textLength="54.575" lengthAdjust="spacing" stroke="#000" stroke-width="0.7">***</text>
<text class="t" id="d_s2" x="0" y="0" transform="translate(576.472,1826.455) rotate(90)" font-family="Carlito, 'Liberation Sans', sans-serif" font-size="39.687" textLength="54.322" lengthAdjust="spacing" stroke="#000" stroke-width="0.7">***</text>
<g stroke="#898989" stroke-width="2.1" fill="none">
<path d="M850.40,1502.50V1877.00"/>
<path d="M850.40,1877.00H1444.40"/>
<path d="M840.40,1877.00H850.40"/>
<path d="M840.40,1839.55H850.40"/>
<path d="M840.40,1802.10H850.40"/>
<path d="M840.40,1764.65H850.40"/>
<path d="M840.40,1727.20H850.40"/>
<path d="M840.40,1689.75H850.40"/>
<path d="M840.40,1652.30H850.40"/>
<path d="M840.40,1614.85H850.40"/>
<path d="M840.40,1577.40H850.40"/>
<path d="M840.40,1539.95H850.40"/>
<path d="M840.40,1502.50H850.40"/>
<path d="M850.40,1877.00V1887.50"/>
<path d="M969.20,1877.00V1887.50"/>
<path d="M1088.00,1877.00V1887.50"/>
<path d="M1206.80,1877.00V1887.50"/>
<path d="M1325.60,1877.00V1887.50"/>
<path d="M1444.40,1877.00V1887.50"/>
</g>
<text class="t" id="e_y0" x="821.170" y="1886.677" font-family="Carlito, 'Liberation Sans', sans-serif" font-size="32.089" text-anchor="end" textLength="15.801" lengthAdjust="spacingAndGlyphs" stroke="#000" stroke-width="0.2">0</text>
<text class="t" id="e_y10" x="821.170" y="1849.227" font-family="Carlito, 'Liberation Sans', sans-serif" font-size="32.089" text-anchor="end" textLength="31.602" lengthAdjust="spacingAndGlyphs" stroke="#000" stroke-width="0.2">10</text>
<text class="t" id="e_y20" x="821.170" y="1811.777" font-family="Carlito, 'Liberation Sans', sans-serif" font-size="32.089" text-anchor="end" textLength="31.602" lengthAdjust="spacingAndGlyphs" stroke="#000" stroke-width="0.2">20</text>
<text class="t" id="e_y30" x="821.170" y="1774.327" font-family="Carlito, 'Liberation Sans', sans-serif" font-size="32.089" text-anchor="end" textLength="31.602" lengthAdjust="spacingAndGlyphs" stroke="#000" stroke-width="0.2">30</text>
<text class="t" id="e_y40" x="821.170" y="1736.877" font-family="Carlito, 'Liberation Sans', sans-serif" font-size="32.089" text-anchor="end" textLength="31.602" lengthAdjust="spacingAndGlyphs" stroke="#000" stroke-width="0.2">40</text>
<text class="t" id="e_y50" x="821.170" y="1699.427" font-family="Carlito, 'Liberation Sans', sans-serif" font-size="32.089" text-anchor="end" textLength="31.602" lengthAdjust="spacingAndGlyphs" stroke="#000" stroke-width="0.2">50</text>
<text class="t" id="e_y60" x="821.170" y="1661.977" font-family="Carlito, 'Liberation Sans', sans-serif" font-size="32.089" text-anchor="end" textLength="31.602" lengthAdjust="spacingAndGlyphs" stroke="#000" stroke-width="0.2">60</text>
<text class="t" id="e_y70" x="821.170" y="1624.527" font-family="Carlito, 'Liberation Sans', sans-serif" font-size="32.089" text-anchor="end" textLength="31.602" lengthAdjust="spacingAndGlyphs" stroke="#000" stroke-width="0.2">70</text>
<text class="t" id="e_y80" x="821.170" y="1587.077" font-family="Carlito, 'Liberation Sans', sans-serif" font-size="32.089" text-anchor="end" textLength="31.602" lengthAdjust="spacingAndGlyphs" stroke="#000" stroke-width="0.2">80</text>
<text class="t" id="e_y90" x="821.170" y="1549.627" font-family="Carlito, 'Liberation Sans', sans-serif" font-size="32.089" text-anchor="end" textLength="31.602" lengthAdjust="spacingAndGlyphs" stroke="#000" stroke-width="0.2">90</text>
<text class="t" id="e_y100" x="821.170" y="1512.177" font-family="Carlito, 'Liberation Sans', sans-serif" font-size="32.089" text-anchor="end" textLength="47.403" lengthAdjust="spacingAndGlyphs" stroke="#000" stroke-width="0.2">100</text>
<text class="t" id="e_x0" x="850.942" y="1927.101" font-family="Carlito, 'Liberation Sans', sans-serif" font-size="32.455" text-anchor="middle" textLength="14.202" lengthAdjust="spacingAndGlyphs" stroke="#000" stroke-width="0.2">0</text>
<text class="t" id="e_x10" x="969.742" y="1927.101" font-family="Carlito, 'Liberation Sans', sans-serif" font-size="32.455" text-anchor="middle" textLength="28.403" lengthAdjust="spacingAndGlyphs" stroke="#000" stroke-width="0.2">10</text>
<text class="t" id="e_x20" x="1088.542" y="1927.101" font-family="Carlito, 'Liberation Sans', sans-serif" font-size="32.455" text-anchor="middle" textLength="28.403" lengthAdjust="spacingAndGlyphs" stroke="#000" stroke-width="0.2">20</text>
<text class="t" id="e_x30" x="1207.342" y="1927.101" font-family="Carlito, 'Liberation Sans', sans-serif" font-size="32.455" text-anchor="middle" textLength="28.403" lengthAdjust="spacingAndGlyphs" stroke="#000" stroke-width="0.2">30</text>
<text class="t" id="e_x40" x="1326.142" y="1927.101" font-family="Carlito, 'Liberation Sans', sans-serif" font-size="32.455" text-anchor="middle" textLength="28.403" lengthAdjust="spacingAndGlyphs" stroke="#000" stroke-width="0.2">40</text>
<text class="t" id="e_x50" x="1444.942" y="1927.101" font-family="Carlito, 'Liberation Sans', sans-serif" font-size="32.455" text-anchor="middle" textLength="28.403" lengthAdjust="spacingAndGlyphs" stroke="#000" stroke-width="0.2">50</text>
<text class="t" id="e_xl" x="1057.076" y="1987.836" font-family="Carlito, 'Liberation Sans', sans-serif" font-size="31.060" textLength="189.536" lengthAdjust="spacingAndGlyphs" stroke="#000" stroke-width="0.2">time (hours)</text>
<text class="t" id="e_yl" x="0" y="0" transform="translate(740.053,1810.042) rotate(-90)" font-family="Carlito, 'Liberation Sans', sans-serif" font-size="36.150" textLength="242.106" lengthAdjust="spacingAndGlyphs" stroke="#000" stroke-width="0.2">percent survival</text>
<text class="t" id="e" x="795.624" y="1438.684" font-family="Carlito, 'Liberation Sans', sans-serif" font-size="44.748" textLength="21.599" lengthAdjust="spacingAndGlyphs" stroke="#000" stroke-width="0.2">e</text>
<text class="t" id="e_t" x="928.955" y="1429.139" font-family="Carlito, 'Liberation Sans', sans-serif" font-size="41.842" textLength="364.073" lengthAdjust="spacingAndGlyphs" stroke="#000" stroke-width="0.2">Induced (100 µg/ml)</text>
<clipPath id="clipe"><rect x="810.40" y="1502.50" width="674.00" height="414.50"/></clipPath>
<path clip-path="url(#clipe)" d="M850.40,1502.50 L874.16,1502.50 L1064.24,1854.90 L1099.88,1854.90 L1123.64,1865.39 L1147.40,1865.39 L1301.84,1874.75 L1325.60,1874.75 L1349.36,1874.75" fill="none" stroke="#00B050" stroke-width="6.8" stroke-dasharray="20.7 29.2" stroke-linecap="round" stroke-linejoin="round"/>
<path d="M1064.24,1826.07V1877.00 M1057.14,1826.07h14.20 M1099.88,1826.07V1877.00 M1092.78,1826.07h14.20 M1123.64,1848.54V1877.00 M1116.54,1848.54h14.20 M1147.40,1848.54V1877.00 M1140.30,1848.54h14.20" stroke="#000" stroke-width="2.8" fill="none"/>
<path d="M850.40,1490.60L862.30,1502.50L850.40,1514.40L838.50,1502.50Z" fill="#00B050"/>
<path d="M874.16,1490.60L886.06,1502.50L874.16,1514.40L862.26,1502.50Z" fill="#00B050"/>
<path d="M1064.24,1843.00L1076.14,1854.90L1064.24,1866.80L1052.34,1854.90Z" fill="#00B050"/>
<path d="M1099.88,1843.00L1111.78,1854.90L1099.88,1866.80L1087.98,1854.90Z" fill="#00B050"/>
<path d="M1123.64,1853.49L1135.54,1865.39L1123.64,1877.29L1111.74,1865.39Z" fill="#00B050"/>
<path d="M1147.40,1853.49L1159.30,1865.39L1147.40,1877.29L1135.50,1865.39Z" fill="#00B050"/>
<path d="M1301.84,1862.85L1313.74,1874.75L1301.84,1886.65L1289.94,1874.75Z" fill="#00B050"/>
<path d="M1325.60,1862.85L1337.50,1874.75L1325.60,1886.65L1313.70,1874.75Z" fill="#00B050"/>
<path d="M1349.36,1862.85L1361.26,1874.75L1349.36,1886.65L1337.46,1874.75Z" fill="#00B050"/>
<path clip-path="url(#clipe)" d="M850.40,1502.50 L874.16,1502.50 L1064.24,1877.00 L1099.88,1877.00 L1123.64,1877.00 L1147.40,1877.00 L1301.84,1877.00 L1325.60,1877.00 L1349.36,1877.00" fill="none" stroke="#C00000" stroke-width="6.8" stroke-dasharray="48.2 28.3 0.2 28.1 0.2 29.3" stroke-linecap="round" stroke-linejoin="round"/>
<rect x="838.50" y="1490.60" width="23.8" height="23.8" fill="#C00000"/>
<rect x="862.26" y="1490.60" width="23.8" height="23.8" fill="#C00000"/>
<rect x="1052.34" y="1865.10" width="23.8" height="23.8" fill="#C00000"/>
<rect x="1087.98" y="1865.10" width="23.8" height="23.8" fill="#C00000"/>
<rect x="1111.74" y="1865.10" width="23.8" height="23.8" fill="#C00000"/>
<rect x="1135.50" y="1865.10" width="23.8" height="23.8" fill="#C00000"/>
<rect x="1289.94" y="1865.10" width="23.8" height="23.8" fill="#C00000"/>
<rect x="1313.70" y="1865.10" width="23.8" height="23.8" fill="#C00000"/>
<rect x="1337.46" y="1865.10" width="23.8" height="23.8" fill="#C00000"/>
<path clip-path="url(#clipe)" d="M850.40,1502.50 L874.16,1502.50 L1064.24,1502.50 L1099.88,1502.50 L1123.64,1502.50 L1147.40,1502.50 L1301.84,1502.50 L1325.60,1502.50 L1349.36,1502.50" fill="none" stroke="#0070C0" stroke-width="7.5" stroke-dasharray="0.3 13.8" stroke-linecap="round"/>
<circle cx="850.40" cy="1502.50" r="11.9" fill="#0070C0"/>
<circle cx="874.16" cy="1502.50" r="11.9" fill="#0070C0"/>
<circle cx="1064.24" cy="1502.50" r="11.9" fill="#0070C0"/>
<circle cx="1099.88" cy="1502.50" r="11.9" fill="#0070C0"/>
<circle cx="1123.64" cy="1502.50" r="11.9" fill="#0070C0"/>
<circle cx="1147.40" cy="1502.50" r="11.9" fill="#0070C0"/>
<circle cx="1301.84" cy="1502.50" r="11.9" fill="#0070C0"/>
<circle cx="1325.60" cy="1502.50" r="11.9" fill="#0070C0"/>
<circle cx="1349.36" cy="1502.50" r="11.9" fill="#0070C0"/>
<path d="M1375.00,1501.70V1871.40" stroke="#000" stroke-width="3.0"/>
<text class="t" id="e_s1" x="0" y="0" transform="translate(1369.650,1651.625) rotate(90)" font-family="Carlito, 'Liberation Sans', sans-serif" font-size="42.072" textLength="56.375" lengthAdjust="spacing" stroke="#000" stroke-width="0.7">***</text>
<path d="M1465.25,888.8H1537.3" stroke="#00B050" stroke-width="6.8" stroke-dasharray="20.7 29.2" stroke-linecap="round" fill="none"/>
<path d="M1505,878.5999999999999L1515.2,888.8L1505,899.0L1494.8,888.8Z" fill="#00B050"/>
<path d="M1466,945.6H1546" stroke="#C00000" stroke-width="6.8" stroke-dasharray="48.2 28.6 0.2 28.1 0.2 29.3" stroke-linecap="round" fill="none"/>
<rect x="1495" y="935.1" width="21" height="21" fill="#C00000"/>
<path d="M1465.9,1002.0H1537" stroke="#0070C0" stroke-width="7.5" stroke-dasharray="0.3 13.8" stroke-linecap="round" fill="none"/>
<circle cx="1505" cy="1002.0" r="11.3" fill="#0070C0"/>
<text class="t" id="l_sh" x="1553.862" y="897.000" font-family="Carlito, 'Liberation Sans', sans-serif" font-size="30.303" textLength="33.645" lengthAdjust="spacingAndGlyphs" stroke="#000" stroke-width="0.2">SH</text>
<text class="t" id="l_dh" x="1554.019" y="954.572" font-family="Carlito, 'Liberation Sans', sans-serif" font-size="29.112" textLength="38.194" lengthAdjust="spacingAndGlyphs" stroke="#000" stroke-width="0.2">DH</text>
<text class="t" id="l_ct" x="1553.586" y="1011.566" font-family="Carlito, 'Liberation Sans', sans-serif" font-size="31.980" textLength="94.829" lengthAdjust="spacingAndGlyphs" stroke="#000" stroke-width="0.2">Control</text>
</svg>
</body></html>
